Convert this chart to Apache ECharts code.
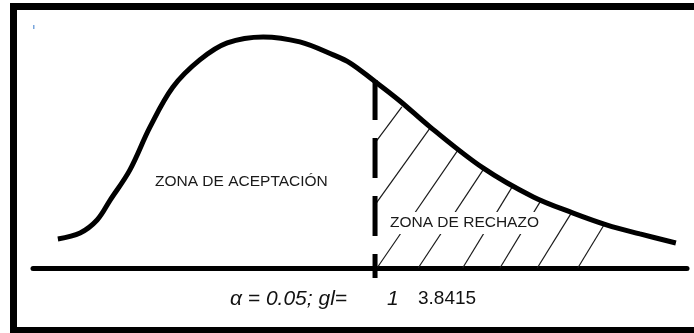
<!DOCTYPE html>
<html>
<head>
<meta charset="utf-8">
<script src="https://cdn.jsdelivr.net/npm/echarts@6/dist/echarts.min.js"></script>
<style>
  html, body { margin: 0; padding: 0; background: #fff; }
  #chart { width: 694px; height: 333px; }
</style>
</head>
<body>
<div id="chart"></div>
<script>
// curva de densidad
const curveX = [3.8, 7.2, 9.8, 11.8, 14.8, 17.9, 21.4, 25.5, 29.7, 35.2, 40.8, 45.9, 48.5, 52.0, 56.1, 60.7, 68.8, 76.5, 82.6, 87.8, 92.8, 98.3];
const curveY = [12.1, 14.6, 20.0, 28.3, 40.8, 58.8, 75.4, 86.7, 93.8, 96.3, 94.2, 88.8, 85.4, 78.3, 69.6, 58.8, 41.7, 29.6, 22.9, 17.9, 14.2, 10.4];

// valor critico (linea punteada)
const criticalX = 52.3;
const criticalTop = 78.3;
const criticalBottom = -4.2;

// rayado de la zona de rechazo: inicio y fin de cada trazo
const hatchStart = [[52.3, 52.1], [52.4, 26.7], [52.6, 0], [58.9, 0], [65.7, 0], [71.4, 0], [77.1, 0], [83.3, 0]];
const hatchEnd = [[56.4, 67.1], [60.7, 58.3], [65.0, 49.2], [68.8, 40.8], [73.2, 33.5], [77.7, 28.3], [82.4, 23.3], [87.3, 17.9]];

const labelAccept = 'ZONA DE ACEPTACIÓN';
const labelReject = 'ZONA DE RECHAZO';
const labelAlpha = 'α = 0.05; gl=';
const labelGl = '1';
const labelCrit = '3.8415';

const chart = echarts.init(document.getElementById('chart'));

const option = {
    backgroundColor: '#fff',
    animation: false,
    grid: {
        left: 33,
        right: 7,
        top: 28,
        bottom: 17
    },
    xAxis: {
        type: 'value',
        min: 0,
        max: 100,
        axisLine: {
            show: true,
            onZero: true,
            lineStyle: { color: '#000', width: 5 }
        },
        axisTick: { show: false },
        axisLabel: { show: false },
        splitLine: { show: false }
    },
    yAxis: {
        type: 'value',
        min: -20,
        max: 100,
        axisLine: { show: false },
        axisTick: { show: false },
        axisLabel: { show: false },
        splitLine: { show: false }
    },
    series: [
        {
            type: 'lines',
            coordinateSystem: 'cartesian2d',
            z: 1,
            lineStyle: { color: '#1a1a1a', width: 1.2, opacity: 1 },
            data: hatchStart.map((s, i) => ({ coords: [s, hatchEnd[i]] }))
        },
        {
            type: 'line',
            z: 3,
            symbol: 'none',
            smooth: 0.35,
            lineStyle: { color: '#000', width: 5 },
            data: curveX.map((x, i) => [x, curveY[i]])
        },
        {
            type: 'line',
            z: 4,
            symbol: 'none',
            clip: false,
            lineStyle: { color: '#000', width: 5, type: [40, 18], cap: 'butt' },
            data: [[criticalX, criticalTop], [criticalX, criticalBottom]]
        }
    ],
    graphic: [
        {
            type: 'rect',
            z: 100,
            shape: { x: 13.5, y: 6.5, width: 720, height: 324 },
            style: { fill: 'none', stroke: '#000', lineWidth: 7 }
        },
        {
            type: 'rect',
            z: 100,
            shape: { x: 33, y: 25, width: 1.5, height: 4 },
            style: { fill: '#7aa6dc' }
        },
        {
            type: 'text',
            z: 100,
            x: 155,
            y: 182,
            style: {
                text: labelAccept,
                font: '15.5px "Liberation Sans", Arial, sans-serif',
                fill: '#1a1a1a',
                verticalAlign: 'middle'
            }
        },
        {
            type: 'text',
            z: 100,
            x: 390,
            y: 223,
            style: {
                text: labelReject,
                font: '15.5px "Liberation Sans", Arial, sans-serif',
                fill: '#1a1a1a',
                verticalAlign: 'middle',
                backgroundColor: '#fff',
                padding: [3, 0, 3, 0]
            }
        },
        {
            type: 'text',
            z: 100,
            x: 230,
            y: 299,
            style: {
                text: labelAlpha,
                font: 'italic 21px "Liberation Sans", Arial, sans-serif',
                fill: '#111',
                verticalAlign: 'middle'
            }
        },
        {
            type: 'text',
            z: 100,
            x: 387,
            y: 299,
            style: {
                text: labelGl,
                font: 'italic 21px "Liberation Sans", Arial, sans-serif',
                fill: '#111',
                verticalAlign: 'middle'
            }
        },
        {
            type: 'text',
            z: 100,
            x: 418,
            y: 299,
            style: {
                text: labelCrit,
                font: '19px "Liberation Sans", Arial, sans-serif',
                fill: '#111',
                verticalAlign: 'middle'
            }
        }
    ]
};

chart.setOption(option);
</script>
</body>
</html>
